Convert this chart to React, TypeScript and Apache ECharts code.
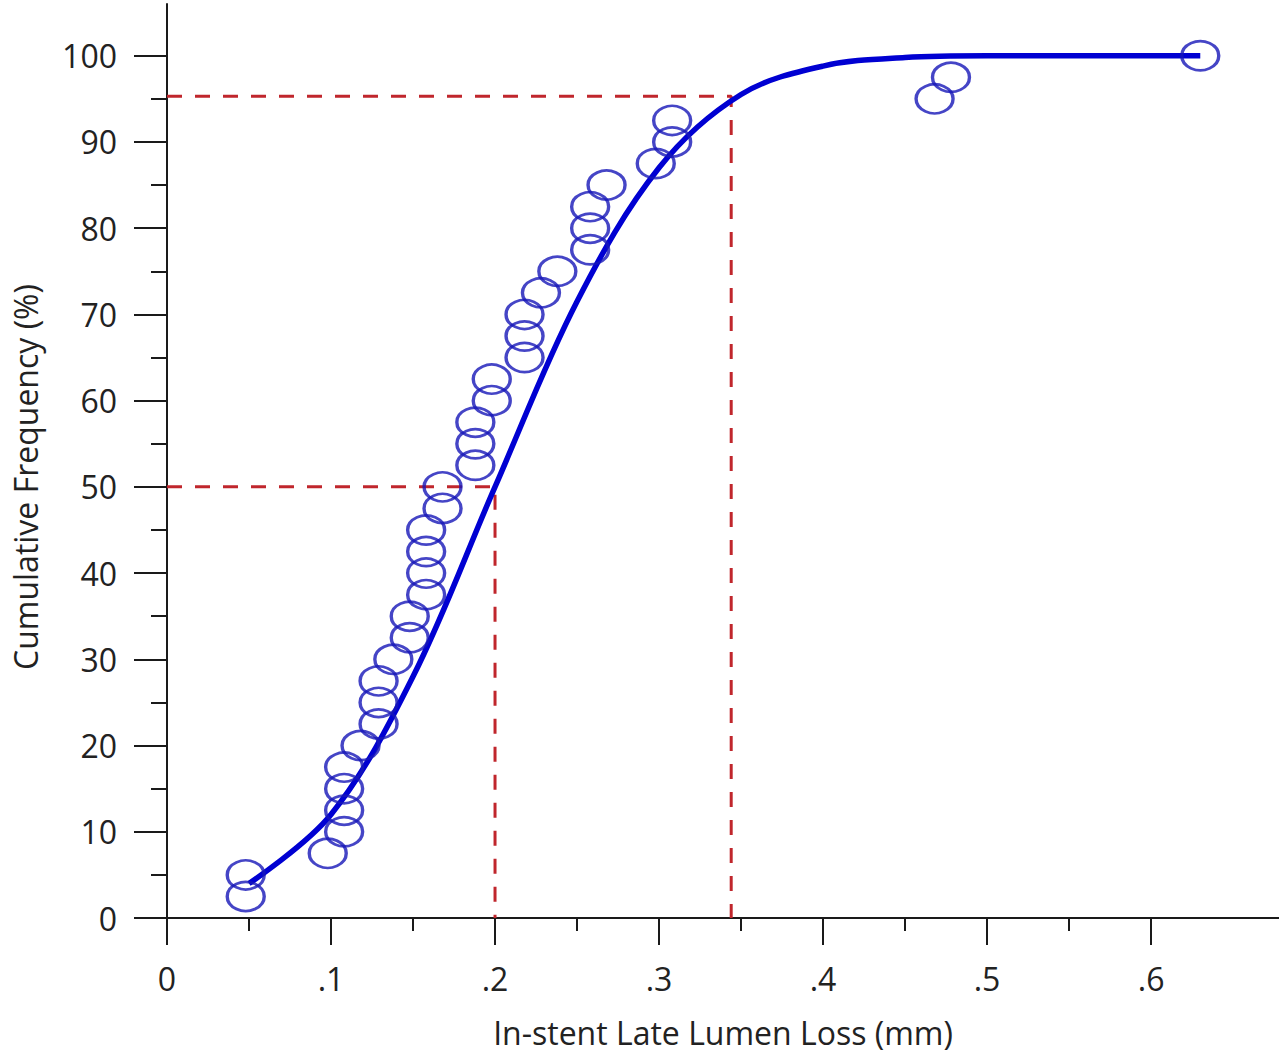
import React, { useEffect, useRef } from "react";
import * as echarts from "echarts";

// Observed late lumen loss values (mm) and their cumulative frequencies (%)
const lossValues = [
  0.048, 0.048, 0.098, 0.108, 0.108, 0.108, 0.108, 0.118, 0.129, 0.129,
  0.129, 0.138, 0.148, 0.148, 0.158, 0.158, 0.158, 0.158, 0.168, 0.168,
  0.188, 0.188, 0.188, 0.198, 0.198, 0.218, 0.218, 0.218, 0.228, 0.238,
  0.258, 0.258, 0.258, 0.268, 0.298, 0.308, 0.308, 0.468, 0.478, 0.63,
];
const cumFreq = [
  2.5, 5, 7.5, 10, 12.5, 15, 17.5, 20, 22.5, 25,
  27.5, 30, 32.5, 35, 37.5, 40, 42.5, 45, 47.5, 50,
  52.5, 55, 57.5, 60, 62.5, 65, 67.5, 70, 72.5, 75,
  77.5, 80, 82.5, 85, 87.5, 90, 92.5, 95, 97.5, 100,
];

// Fitted cumulative curve
const curveX = [0.05, 0.1, 0.15, 0.2, 0.25, 0.3, 0.35, 0.4, 0.45, 0.5, 0.63];
const curveY = [4, 12, 28, 50, 71.5, 87, 95.5, 98.8, 99.8, 100, 100];

// Reference (dashed) lines: median and 95th percentile
const medianLine = [[0, 50], [0.2, 50], [0.2, 0]];
const p95Line = [[0, 95.3], [0.344, 95.3], [0.344, 0]];

// Axis ticks
const xMajorTicks = [0, 0.1, 0.2, 0.3, 0.4, 0.5, 0.6];
const xMinorTicks = [0.05, 0.15, 0.25, 0.35, 0.45, 0.55];
const yMajorTicks = [0, 10, 20, 30, 40, 50, 60, 70, 80, 90, 100];
const yMinorTicks = [5, 15, 25, 35, 45, 55, 65, 75, 85, 95];

const X_MAX = 0.678;
const Y_MAX = 106;
const FONT = "Open Sans";
const AXIS_COLOR = "#1a1a1a";
const TEXT_COLOR = "#222222";
const RED = "#c0262c";

export default function App() {
  const ref = useRef<HTMLDivElement>(null);

  useEffect(() => {
    document.body.style.margin = "0";
    if (!ref.current) return;
    const chart = echarts.init(ref.current, undefined, { renderer: "svg" });

    const dashed = {
      type: "line",
      xAxisIndex: 0,
      yAxisIndex: 0,
      showSymbol: false,
      symbol: "none",
      silent: true,
      lineStyle: { color: RED, width: 3, type: [15, 13] },
      z: 1,
    };

    chart.setOption({
      animation: false,
      backgroundColor: "#ffffff",
      grid: { left: 167, right: 0, top: 4, bottom: 137, containLabel: false },
      xAxis: [
        {
          type: "value",
          min: 0,
          max: X_MAX,
          name: "In-stent Late Lumen Loss (mm)",
          nameLocation: "middle",
          nameGap: 98,
          nameTextStyle: { fontFamily: FONT, fontSize: 32, color: TEXT_COLOR },
          axisLine: { show: true, onZero: false, lineStyle: { color: AXIS_COLOR, width: 2 } },
          axisTick: { show: true, length: 27, customValues: xMajorTicks, lineStyle: { color: AXIS_COLOR, width: 2 } },
          axisLabel: {
            show: true,
            customValues: xMajorTicks,
            margin: 44,
            fontFamily: FONT,
            fontSize: 32,
            color: TEXT_COLOR,
            formatter: (v: number) => (v === 0 ? "0" : "." + Math.round(v * 10)),
          },
          splitLine: { show: false },
        },
        {
          type: "value",
          min: 0,
          max: X_MAX,
          position: "bottom",
          axisLine: { show: false },
          axisTick: { show: true, length: 13, customValues: xMinorTicks, lineStyle: { color: AXIS_COLOR, width: 2 } },
          axisLabel: { show: false },
          splitLine: { show: false },
        },
      ],
      yAxis: [
        {
          type: "value",
          min: 0,
          max: Y_MAX,
          name: "Cumulative Frequency (%)",
          nameLocation: "middle",
          nameRotate: 90,
          nameGap: 126,
          nameTextStyle: { fontFamily: FONT, fontSize: 32, color: TEXT_COLOR, padding: [0, 32, 0, 0] },
          axisLine: { show: true, onZero: false, lineStyle: { color: AXIS_COLOR, width: 2 } },
          axisTick: { show: true, length: 33, customValues: yMajorTicks, lineStyle: { color: AXIS_COLOR, width: 2 } },
          axisLabel: {
            show: true,
            customValues: yMajorTicks,
            margin: 50,
            fontFamily: FONT,
            fontSize: 32,
            color: TEXT_COLOR,
          },
          splitLine: { show: false },
        },
        {
          type: "value",
          min: 0,
          max: Y_MAX,
          position: "left",
          axisLine: { show: false },
          axisTick: { show: true, length: 16, customValues: yMinorTicks, lineStyle: { color: AXIS_COLOR, width: 2 } },
          axisLabel: { show: false },
          splitLine: { show: false },
        },
      ],
      series: [
        { ...dashed, data: medianLine },
        { ...dashed, data: p95Line },
        {
          type: "line",
          data: curveX.map((x, i) => [x, curveY[i]]),
          smooth: 0.35,
          showSymbol: false,
          symbol: "none",
          lineStyle: { color: "#0000d2", width: 5.5 },
          z: 3,
        },
        {
          type: "scatter",
          data: lossValues.map((x, i) => [x, cumFreq[i]]),
          symbol: "circle",
          symbolSize: [37, 29],
          itemStyle: { color: "rgba(0,0,0,0)", borderColor: "#1616b8", borderWidth: 3 },
          z: 4,
        },
      ],
    });

    return () => chart.dispose();
  }, []);

  return <div ref={ref} style={{ width: 1279, height: 1055 }} />;
}
